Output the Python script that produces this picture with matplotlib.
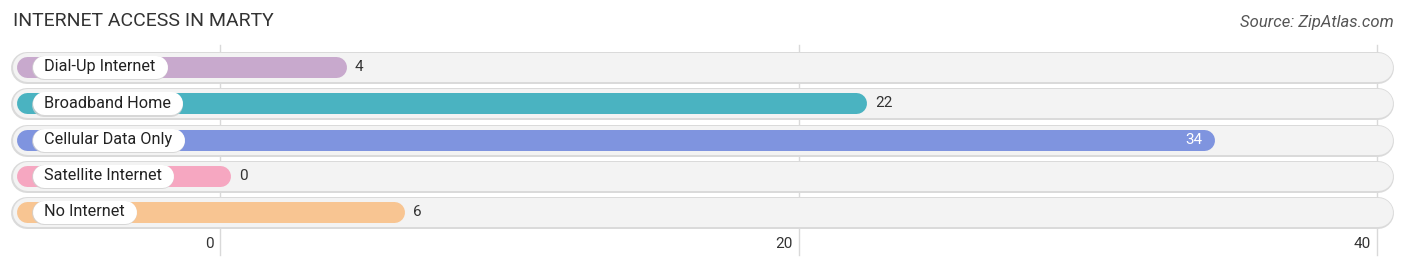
import matplotlib
matplotlib.use("Agg")
import matplotlib.pyplot as plt
from matplotlib.transforms import offset_copy

categories = ["Dial-Up Internet", "Broadband Home", "Cellular Data Only", "Satellite Internet", "No Internet"]
values = [4, 22, 34, 0, 6]
colors = ["#c8a9cd", "#4ab3c1", "#7f94df", "#f6a7c1", "#f8c592"]
ticks = [0, 20, 40]
title = "INTERNET ACCESS IN MARTY"
source = "Source: ZipAtlas.com"

W, H, DPI = 1406, 268, 100
fig = plt.figure(figsize=(W / DPI, H / DPI), dpi=DPI)
ax = fig.add_axes([0, 0, 1, 1])
ax.set_axis_off()

x0_px, px_per_unit = 220.0, 28.93
row0_px, row_step = 67.0, 36.25
ax.set_xlim((0 - x0_px) / px_per_unit, (W - x0_px) / px_per_unit)
ax.set_ylim((H - row0_px) / row_step, (0 - row0_px) / row_step)

def px2x(p):
    return (p - x0_px) / px_per_unit

pt = 72.0 / DPI
font = "Roboto"

# grid lines
for t in ticks:
    ax.plot([t, t], [(45 - row0_px) / row_step, (255 - row0_px) / row_step],
            color="#d9d9d9", lw=1.0, zorder=1)
    ax.text(t, (244 - row0_px) / row_step, str(t), ha="right", va="center",
            fontsize=11, color="#333333", family=font,
            transform=offset_copy(ax.transData, fig=fig, x=-6, y=0, units="dots"))

bg_start, bg_end = px2x(12 + 15), px2x(1393 - 15)
bar_start = px2x(16 + 10.5)
renderer = fig.canvas.get_renderer()
for i, (cat, v, c) in enumerate(zip(categories, values, colors)):
    # background pill with soft border
    ax.plot([bg_start, bg_end], [i + 0.03, i + 0.03], lw=32 * pt, color="#dadada",
            solid_capstyle="round", zorder=2)
    ax.plot([bg_start, bg_end], [i, i], lw=29 * pt, color="#f3f3f3",
            solid_capstyle="round", zorder=3)
    # value bar
    ax.plot([bar_start, v], [i, i], lw=21 * pt, color=c,
            solid_capstyle="round", zorder=4)
    # label text
    txt = ax.text(px2x(44), i, cat, ha="left", va="center", fontsize=11.7,
                  color="#222222", family=font, zorder=7)
    ext = txt.get_window_extent(renderer=renderer)
    right_px = ext.x1
    # label pill (white, round ends) with faint shadow
    p0 = px2x(32 + 11.5)
    p1 = px2x(right_px + 12 - 11.5)
    ax.plot([p0, p1], [i + 0.035, i + 0.035], lw=24 * pt, color="#d0d0d0",
            solid_capstyle="round", zorder=5, alpha=0.8)
    ax.plot([p0, p1], [i, i], lw=23 * pt, color="white",
            solid_capstyle="round", zorder=6)
    # value label
    if v >= 30:
        ax.text(v, i, str(v), ha="right", va="center", fontsize=11, color="white",
                family=font, zorder=7,
                transform=offset_copy(ax.transData, fig=fig, x=-1, y=0, units="dots"))
    else:
        ax.text(v, i, str(v), ha="left", va="center", fontsize=11, color="#333333",
                family=font, zorder=7,
                transform=offset_copy(ax.transData, fig=fig, x=19, y=0, units="dots"))

fig.text(13 / W, 1 - 21 / H, title, ha="left", va="center", fontsize=14,
         color="#333333", family=font)
fig.text(1394 / W, 1 - 23 / H, source, ha="right", va="center", fontsize=12,
         color="#555555", family=font, style="italic")

fig.savefig("out.png", dpi=DPI)
